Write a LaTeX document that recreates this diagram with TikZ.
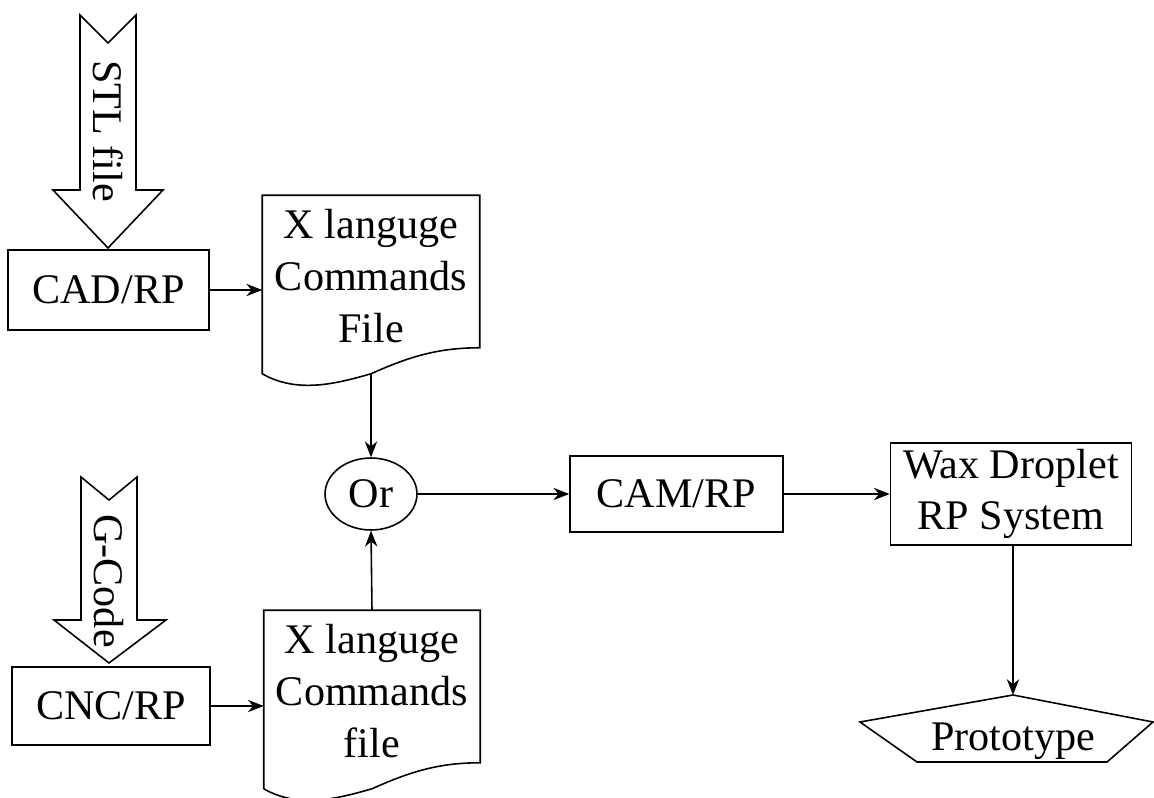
\documentclass[tikz,border=0pt]{standalone}
\usepackage{fontspec}
\setmainfont{Liberation Serif}
\usetikzlibrary{arrows.meta, calc, shapes.geometric}

\begin{document}
\begin{tikzpicture}[x=0.02cm, y=-0.02cm, line width=0.9pt,
  txt/.style={font=\fontsize{24}{29.5}\selectfont, align=center, inner sep=0pt},
  blk/.style={txt, draw},
  flow/.style={-{Stealth[length=9pt, width=7pt]}}]
\useasboundingbox (0,0) rectangle (1154,798);
% input arrows
\draw (80,15) -- (108,43) -- (136,15) -- (136,190) -- (163,190) -- (108,248)
  -- (53,190) -- (80,190) -- cycle;
\node[txt, rotate=-90] (stl) at (108,131) {STL file};
\draw (81,477) -- (109,500) -- (137,477) -- (137,620) -- (166,620) -- (109,663)
  -- (54,620) -- (81,620) -- cycle;
\node[txt, rotate=-90] (gcode) at (109,581) {G-Code};
% blocks
\node[blk, minimum width=4.02cm, minimum height=1.6cm] (cad) at (108.5,290) {CAD/RP};
\node[blk, minimum width=3.96cm, minimum height=1.56cm] (cnc) at (111,706) {CNC/RP};
\node[txt, minimum width=4.32cm, minimum height=3.2cm] (xcmdA) at (371,276) {X languge\\Commands\\File};
\node[txt, minimum width=4.3cm, minimum height=3.2cm] (xcmdB) at (372,691) {X languge\\Commands\\file};
\node[txt, draw, ellipse, minimum width=1.84cm, minimum height=1.44cm] (orsel) at (371,494) {Or};
\node[blk, minimum width=4.26cm, minimum height=1.52cm] (cam) at (676.5,494) {CAM/RP};
\node[blk, minimum width=4.82cm, minimum height=2.04cm] (wax) at (1011,494) {Wax Droplet\\RP System};
% document outlines with wavy bottom
\foreach \d in {xcmdA, xcmdB}
  \draw ($(\d.south west)+(0,17)$) -- (\d.north west) -- (\d.north east) -- ($(\d.south east)+(0,-9)$)
    .. controls +(-40,0) and +(40,-18) .. ($(\d.south)+(0,17)$)
    .. controls +(-35,10) and +(35,20) .. ($(\d.south west)+(0,17)$);
% output
\coordinate (ptop) at (1013,695);
\draw (860,722) -- (ptop) -- (1153,722) -- (1107,762) -- (917,762) -- cycle;
\node[txt] (proto) at (1013,741) {Prototype};
% connectors
\draw[flow] (cad.east) -- (cad.east -| xcmdA.west);
\draw[flow] (cnc.east) -- (cnc.east -| xcmdB.west);
\draw[flow] ($(xcmdA.south)+(0,17)$) -- (orsel.north);
\draw[flow] (xcmdB.north) -- (orsel.south);
\draw[flow] (orsel.east) -- (cam.west);
\draw[flow] (cam.east) -- (wax.west);
\draw[flow] (wax.south -| ptop) -- (ptop);
\end{tikzpicture}
\end{document}
